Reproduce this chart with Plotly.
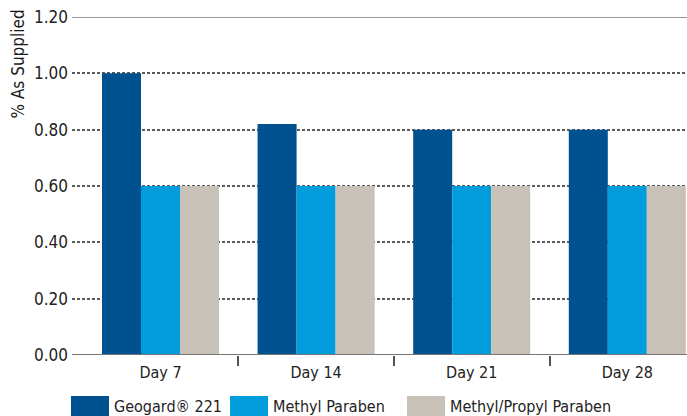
import plotly.graph_objects as go

categories = ["Day 7", "Day 14", "Day 21", "Day 28"]
geogard = [1.00, 0.82, 0.80, 0.80]
methyl_paraben = [0.60, 0.60, 0.60, 0.60]
methyl_propyl_paraben = [0.60, 0.60, 0.60, 0.60]
series_names = ["Geogard® 221", "Methyl Paraben", "Methyl/Propyl Paraben"]
series_colors = ["#005190", "#009CDC", "#C8C1B8"]
y_ticks = [0.0, 0.2, 0.4, 0.6, 0.8, 1.0, 1.2]
y_title = "% As Supplied"

FONT = "DejaVu Sans Condensed"
W, H = 687, 416
ML, MR, MT, MB = 72, 0, 17, 61
PW = W - ML - MR
PH = H - MT - MB

xpos = list(range(len(categories)))
fig = go.Figure()
for name, vals, col in zip(series_names, [geogard, methyl_paraben, methyl_propyl_paraben], series_colors):
    fig.add_trace(go.Bar(x=xpos, y=vals, name=name, marker=dict(color=col, line=dict(width=0)),
                         showlegend=False, hoverinfo="skip"))

band = 155.6
x0 = -0.5 - (82.7 - ML) / band
x1 = x0 + PW / band

fig.update_layout(
    width=W, height=H,
    margin=dict(l=ML, r=MR, t=MT, b=MB),
    plot_bgcolor="white", paper_bgcolor="white",
    barmode="group", bargap=0.248, bargroupgap=0,
    font=dict(family=FONT, size=16, color="#222222"),
    xaxis=dict(range=[x0, x1], tickmode="array", tickvals=xpos, ticktext=categories,
               ticks="", showgrid=False, zeroline=False, showline=False,
               ticklabelstandoff=6,
               tickfont=dict(size=16, color="#222222"),
               minor=dict(tickmode="array", tickvals=[i + 0.5 for i in xpos[:-1]],
                          ticks="outside", ticklen=10, tickwidth=1.5, tickcolor="#555555",
                          showgrid=False)),
    yaxis=dict(range=[0, 1.2], tickmode="array", tickvals=y_ticks,
               ticktext=[f"{v:.2f}" for v in y_ticks], ticks="", showline=False,
               showgrid=True, gridcolor="#5a5a5a", gridwidth=1.5, griddash="3px,2px",
               ticklabelstandoff=3,
               zeroline=False, tickfont=dict(size=17, color="#222222")),
)

# baseline and top line
fig.add_shape(type="line", xref="paper", yref="y", x0=0, x1=1, y0=0, y1=0,
              line=dict(color="#777777", width=2), layer="above")
fig.add_shape(type="line", xref="paper", yref="y", x0=0, x1=1, y0=1.2, y1=1.2,
              line=dict(color="#333333", width=1.2), layer="above")

# y title
fig.add_annotation(text=y_title, xref="paper", yref="paper", x=(18 - ML) / PW, y=1 + 9 / PH,
                   xanchor="center", yanchor="top", textangle=-90, showarrow=False,
                   font=dict(family=FONT, size=17, color="#1a1a1a"))

# custom legend
def px_x(p):
    return (p - ML) / PW

def px_y(p):
    return (MT + PH - p) / PH

legend_x = [71, 230, 407]
for name, col, lx in zip(series_names, series_colors, legend_x):
    fig.add_shape(type="rect", xref="paper", yref="paper", x0=px_x(lx), x1=px_x(lx + 38),
                  y0=px_y(396), y1=px_y(418), fillcolor=col, line=dict(width=0))
    fig.add_annotation(text=name, xref="paper", yref="paper",
                       x=px_x(lx + 41), y=px_y(407),
                       xanchor="left", yanchor="middle", showarrow=False,
                       font=dict(family=FONT, size=16, color="#222222"))

fig.write_html("out.html", config={"displayModeBar": False},
               post_script="document.body.style.margin='0';document.body.style.overflow='hidden';")
